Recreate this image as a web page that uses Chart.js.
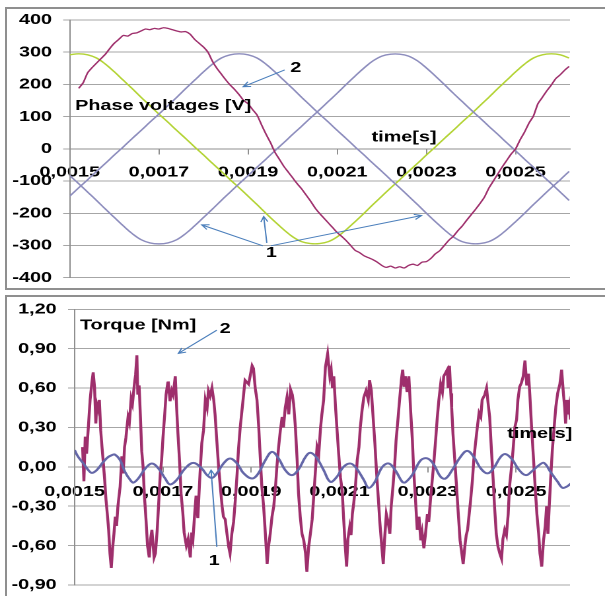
<!DOCTYPE html>
<html><head><meta charset="utf-8">
<script src="https://cdn.jsdelivr.net/npm/chart.js@4.4.0/dist/chart.umd.min.js"></script>
<style>
html,body{margin:0;padding:0;background:#fff;overflow:hidden;width:605px;height:596px;}
.frame{position:absolute;border:2px solid #8f8f8f;box-sizing:border-box;}
canvas{position:absolute;left:0;}
</style></head><body>
<div class="frame" style="left:5px;top:7px;width:700px;height:283px"></div>
<div class="frame" style="left:5px;top:295px;width:700px;height:400px"></div>
<canvas id="c1" width="458" height="290" style="top:0px;width:605px;height:290px"></canvas>
<canvas id="c2" width="458" height="306" style="top:290px;width:605px;height:306px"></canvas>
<script>
// ---------- axis ticks (time in microseconds) ----------
const xTicks = [1500, 1700, 1900, 2100, 2300, 2500];
const xLabels = ['0,0015', '0,0017', '0,0019', '0,0021', '0,0023', '0,0025'];
const yTicksV = [-400, -300, -200, -100, 0, 100, 200, 300, 400];
const yLabelsV = ['-400', '-300', '-200', '-100', '0', '100', '200', '300', '400'];
const yTicksT = [-0.9, -0.6, -0.3, 0, 0.3, 0.6, 0.9, 1.2];
const yLabelsT = ['-0,90', '-0,60', '-0,30', '0,00', '0,30', '0,60', '0,90', '1,20'];

// ---------- phase voltages (curves 1) ----------
const tV = [1500,1520,1540,1560,1580,1600,1620,1640,1660,1680,1700,1720,1740,1760,1780,1800,1820,1840,1860,1880,
1900,1920,1940,1960,1980,2000,2020,2040,2060,2080,2100,2120,2140,2160,2180,2200,2220,2240,2260,2280,
2300,2320,2340,2360,2380,2400,2420,2440,2460,2480,2500,2520,2540,2560,2580,2600,2620];
const vGreen = [292,295,292,282,263,239,213,187,160,134,108,83,57,32,6,-19,-45,-70,-96,-121,
-147,-173,-200,-226,-251,-273,-288,-294,-294,-288,-273,-251,-226,-200,-173,-147,-121,-96,-70,-45,
-19,6,32,57,83,108,134,160,187,213,239,263,282,292,295,292,282];
const vPhaseA = [-147,-121,-96,-70,-45,-19,6,32,57,83,108,134,160,187,213,239,263,282,292,295,
292,282,263,239,213,187,160,134,108,83,57,32,6,-19,-45,-70,-96,-121,-147,-173,
-200,-226,-251,-273,-288,-294,-294,-288,-273,-251,-226,-200,-173,-147,-121,-96,-70];
const vPhaseB = [-83,-108,-134,-160,-187,-213,-239,-263,-282,-292,-295,-292,-282,-263,-239,-213,-187,-160,-134,-108,
-83,-57,-32,-6,19,45,70,96,121,147,173,200,226,251,273,288,294,294,288,273,
251,226,200,173,147,121,96,70,45,19,-6,-32,-57,-83,-108,-134,-160];

// ---------- phase voltage (curve 2) ----------
const tV2 = [1520,1530,1540,1550,1560,1570,1580,1590,1600,1610,1620,1630,1640,1650,1660,1670,1680,1690,1700,1710,
1720,1730,1740,1750,1760,1770,1780,1790,1800,1810,1820,1830,1840,1850,1860,1870,1880,1890,1900,1910,
1920,1930,1940,1950,1960,1970,1980,1990,2000,2010,2020,2030,2040,2050,2060,2070,2080,2090,2100,2110,
2120,2130,2140,2150,2160,2170,2180,2190,2200,2210,2220,2230,2240,2250,2260,2270,2280,2290,2300,2310,
2320,2330,2340,2350,2360,2370,2380,2390,2400,2410,2420,2430,2440,2450,2460,2470,2480,2490,2500,2510,
2520,2530,2540,2550,2560,2570,2580,2590,2600,2610,2620];
const vMag = [188,205,236,252,266,280,294,312,328,340,352,350,358,360,366,372,370,374,372,376,
374,370,366,363,364,356,340,328,316,300,272,250,232,214,198,184,168,150,140,122,
105,75,46,20,-10,-32,-54,-72,-90,-108,-124,-143,-162,-183,-200,-215,-230,-245,-260,-272,
-285,-300,-315,-322,-332,-338,-344,-352,-362,-368,-364,-370,-366,-370,-362,-358,-362,-352,-350,-340,
-326,-316,-300,-284,-272,-255,-240,-222,-205,-188,-170,-150,-122,-100,-78,-56,-36,-16,0,28,
52,80,102,140,160,180,198,218,230,244,256];

// ---------- torque (curve 2) ----------
const tq2T = [1518,1521,1524,1527,1531,1535,1539,1542,1545,1548,1550,1554,1556,1559,1562,1565,1568,1571,1574,1577,
1580,1583,1586,1589,1592,1595,1598,1603,1607,1610,1613,1616,1621,1624,1628,1631,1635,1638,1641,1643,
1646,1649,1652,1655,1658,1662,1665,1669,1672,1675,1680,1683,1687,1690,1694,1697,1700,1704,1707,1711,
1712,1716,1720,1723,1728,1731,1734,1738,1741,1745,1748,1753,1757,1762,1765,1768,1772,1775,1779,1784,
1788,1792,1796,1800,1803,1807,1811,1815,1818,1822,1826,1830,1834,1837,1841,1845,1849,1852,1856,1860,
1864,1868,1871,1875,1879,1883,1886,1894,1902,1905,1909,1913,1917,1920,1924,1928,1932,1936,1939,1943,
1947,1951,1955,1958,1962,1966,1970,1973,1977,1981,1985,1989,1993,1996,2000,2004,2007,2011,2015,2019,
2023,2026,2030,2034,2038,2041,2045,2049,2053,2057,2060,2064,2068,2073,2078,2081,2084,2087,2091,2095,
2098,2102,2106,2109,2113,2116,2119,2123,2126,2129,2132,2136,2140,2144,2147,2151,2155,2160,2165,2168,
2172,2176,2180,2184,2188,2191,2195,2199,2202,2206,2210,2214,2217,2221,2225,2228,2232,2236,2240,2243,
2246,2249,2253,2257,2261,2265,2268,2272,2276,2280,2284,2287,2291,2295,2299,2302,2306,2310,2314,2318,
2321,2325,2329,2333,2336,2344,2346,2349,2352,2354,2357,2361,2365,2369,2373,2377,2380,2384,2387,2390,
2393,2397,2401,2404,2408,2412,2416,2420,2423,2429,2433,2436,2440,2444,2448,2451,2455,2459,2463,2467,
2470,2474,2478,2482,2485,2489,2493,2497,2501,2504,2508,2512,2516,2520,2524,2528,2531,2535,2539,2543,
2547,2551,2554,2558,2562,2566,2569,2572,2575,2578,2582,2586,2590,2594,2599,2603,2607,2610,2612,2615,
2617,2620,2623];
const tq2V = [0.15,-0.11,0.23,0.10,0.30,0.51,0.64,0.72,0.61,0.33,0.48,0.43,0.51,0.28,0.15,0.03,-0.10,-0.25,-0.36,-0.48,
-0.66,-0.77,-0.62,-0.51,-0.38,-0.45,-0.30,-0.15,0.08,-0.05,0.15,0.22,0.38,0.34,0.52,0.48,0.62,0.70,0.85,0.55,
0.62,0.38,0.12,0.00,-0.22,-0.42,-0.60,-0.69,-0.55,-0.48,-0.69,-0.66,-0.48,-0.30,-0.05,0.05,0.22,0.40,0.55,0.64,
0.65,0.50,0.58,0.55,0.69,0.45,0.25,0.02,-0.20,-0.35,-0.50,-0.60,-0.55,-0.69,-0.50,-0.55,-0.35,-0.22,-0.39,-0.05,
0.18,0.28,0.51,0.45,0.58,0.54,0.60,0.51,0.40,0.20,0.00,-0.15,-0.30,-0.38,-0.40,-0.51,-0.61,-0.66,-0.51,-0.42,
-0.25,-0.05,0.13,0.30,0.43,0.56,0.66,0.63,0.77,0.75,0.60,0.51,0.30,0.10,-0.15,-0.30,-0.51,-0.74,-0.61,-0.51,
-0.38,-0.30,-0.15,0.00,0.15,0.28,0.38,0.30,0.45,0.53,0.40,0.59,0.55,0.48,0.30,0.05,-0.20,-0.38,-0.51,-0.56,
-0.66,-0.80,-0.61,-0.51,-0.40,-0.25,-0.05,0.15,0.10,0.30,0.40,0.51,0.76,0.86,0.69,0.74,0.60,0.69,0.45,0.25,
0.10,-0.08,-0.18,-0.38,-0.61,-0.76,-0.55,-0.46,-0.52,-0.36,-0.28,-0.15,0.05,0.15,0.30,0.43,0.53,0.58,0.51,0.66,
0.58,0.38,0.18,-0.05,-0.25,-0.41,-0.58,-0.74,-0.55,-0.36,-0.42,-0.51,-0.30,-0.15,0.02,0.20,0.35,0.51,0.66,0.74,
0.61,0.69,0.57,0.69,0.43,0.20,-0.03,-0.25,-0.48,-0.38,-0.56,-0.50,-0.62,-0.50,-0.36,-0.42,-0.25,-0.10,0.05,0.22,
0.36,0.51,0.63,0.57,0.69,0.74,0.60,0.77,0.56,0.45,0.25,0.05,-0.15,-0.36,-0.56,-0.66,-0.74,-0.60,-0.52,-0.48,
-0.38,-0.25,-0.10,0.05,0.18,0.30,0.41,0.38,0.51,0.55,0.60,0.50,0.38,0.13,-0.10,-0.30,-0.51,-0.61,-0.66,-0.70,
-0.55,-0.48,-0.52,-0.36,-0.15,-0.02,0.13,0.30,0.36,0.51,0.61,0.64,0.69,0.81,0.62,0.71,0.55,0.30,0.08,-0.15,
-0.36,-0.51,-0.66,-0.76,-0.56,-0.45,-0.30,-0.51,-0.30,-0.10,0.13,0.30,0.46,0.56,0.63,0.74,0.56,0.45,0.33,0.51,
0.40,0.46,0.36];

// ---------- torque (curve 1) ----------
const tq1T = [1500,1508,1520,1531,1539,1550,1565,1576,1585,1591,1603,1614,1626,1633,1644,1660,1675,1690,1705,1716,
1731,1750,1769,1788,1800,1811,1822,1837,1852,1868,1883,1902,1916,1932,1947,1962,1977,1992,2007,2023,
2034,2048,2064,2079,2093,2109,2125,2138,2155,2166,2179,2197,2212,2227,2242,2249,2265,2284,2299,2313,
2329,2340,2355,2374,2389,2404,2420,2435,2449,2465,2476,2490,2507,2522,2537,2552,2563,2578,2594,2605,
2615,2624];
const tq1V = [0.127,0.076,0.025,-0.025,-0.046,-0.025,0.038,0.075,0.090,0.094,0.051,-0.038,-0.100,-0.120,-0.089,-0.013,0.025,-0.013,-0.089,-0.134,
-0.100,-0.013,0.030,-0.013,-0.063,-0.084,-0.050,0.025,0.064,0.025,-0.050,-0.089,-0.050,0.051,0.114,0.064,-0.025,-0.063,-0.020,0.076,
0.107,0.070,-0.025,-0.114,-0.080,0.000,0.025,-0.010,-0.100,-0.160,-0.120,0.000,0.025,-0.030,-0.114,-0.118,-0.060,0.051,0.064,0.020,
-0.076,-0.089,-0.025,0.076,0.122,0.076,-0.013,-0.050,-0.010,0.076,0.097,0.060,-0.025,-0.063,-0.030,0.013,0.030,-0.040,-0.114,-0.160,
-0.150,-0.127];

// ---------- rendering ----------
const FONT = "'Liberation Sans', Arial, Helvetica, sans-serif";
Chart.defaults.font.family = FONT;
Chart.defaults.font.size = 15;
Chart.defaults.font.weight = 'bold';
Chart.defaults.color = '#000';

const xy = (ts, vs) => vs.map((v, i) => ({x: ts[i], y: v}));

function makeAnnot(texts, arrows) {
  return {
    id: 'annot',
    afterDraw(chart) {
      const ctx = chart.ctx, xs = chart.scales.x, ys = chart.scales.y;
      const P = (t, v) => [xs.getPixelForValue(t), ys.getPixelForValue(v)];
      ctx.save();
      ctx.strokeStyle = '#4a7ebb';
      ctx.lineWidth = 1;
      arrows.forEach(a => {
        const [x1, y1] = P(a[0], a[1]), [x2, y2] = P(a[2], a[3]);
        const ang = Math.atan2(y2 - y1, x2 - x1), L = 6;
        ctx.beginPath();
        ctx.moveTo(x1, y1); ctx.lineTo(x2, y2);
        ctx.moveTo(x2 - L * Math.cos(ang - 0.45), y2 - L * Math.sin(ang - 0.45));
        ctx.lineTo(x2, y2);
        ctx.lineTo(x2 - L * Math.cos(ang + 0.45), y2 - L * Math.sin(ang + 0.45));
        ctx.stroke();
      });
      ctx.font = 'bold 15px ' + FONT;
      ctx.fillStyle = '#000';
      ctx.textBaseline = 'alphabetic';
      texts.forEach(a => {
        const [x, y] = P(a[1], a[2]);
        ctx.textAlign = a[3] || 'left';
        ctx.fillText(a[0], x, y);
      });
      ctx.restore();
    }
  };
}

function xScale(pad) {
  return {
    type: 'linear', min: 1500, max: 2622, position: {y: 0}, offset: false,
    afterBuildTicks: s => { s.ticks = xTicks.map(v => ({value: v})); },
    ticks: {autoSkip: false, maxRotation: 0, padding: pad, callback: (v, i) => xLabels[i]},
    grid: {drawOnChartArea: false, drawTicks: true, tickLength: 5, color: '#8f8f8f'},
    border: {display: true, color: '#8f8f8f', width: 1}
  };
}
function yScale(min, max, vals, labels, width, pad) {
  return {
    type: 'linear', min: min, max: max,
    afterBuildTicks: s => { s.ticks = vals.map(v => ({value: v})); },
    afterFit: s => { s.width = width; s.paddingTop = 0; s.paddingBottom = 0; },
    ticks: {autoSkip: false, padding: pad, callback: (v, i) => labels[i]},
    grid: {color: '#a6a6a6', lineWidth: 1, drawTicks: true, tickLength: 5},
    border: {display: true, color: '#8f8f8f', width: 1}
  };
}

new Chart(document.getElementById('c1'), {
  type: 'line',
  data: {datasets: [
    {data: xy(tV2, vMag), borderColor: '#9e2f6c', borderWidth: 1.3, pointRadius: 0, tension: 0.2},
    {data: xy(tV, vPhaseA), borderColor: '#8d8dbd', borderWidth: 1.4, pointRadius: 0, tension: 0.4},
    {data: xy(tV, vPhaseB), borderColor: '#8d8dbd', borderWidth: 1.4, pointRadius: 0, tension: 0.4},
    {data: xy(tV, vGreen), borderColor: '#b3d335', borderWidth: 1.4, pointRadius: 0, tension: 0.4}
  ]},
  options: {
    responsive: false, animation: false, devicePixelRatio: 2,
    layout: {padding: {left: 0, right: 26.5, top: 20, bottom: 12.3}},
    plugins: {legend: {display: false}, tooltip: {enabled: false}},
    scales: {x: xScale(9.5), y: yScale(-400, 400, yTicksV, yLabelsV, 52.8, 8.4)}
  },
  plugins: [makeAnnot(
    [['Phase voltages [V]', 1512, 120], ['2', 2007, 239, 'center'], ['time[s]', 2177, 23],
     ['1', 1952, -335, 'center']],
    [[1982, 245, 1889, 193], [1933, -301, 1796, -236], [1942, -292, 1935, -210], [1951, -301, 2289, -207]]
  )]
});

new Chart(document.getElementById('c2'), {
  type: 'line',
  data: {datasets: [
    {data: xy(tq1T, tq1V), borderColor: '#6467a8', borderWidth: 2, pointRadius: 0, tension: 0.4},
    {data: xy(tq2T, tq2V), borderColor: '#9e2f6c', borderWidth: 2.2, pointRadius: 0, tension: 0}
  ]},
  options: {
    responsive: false, animation: false, devicePixelRatio: 2,
    layout: {padding: {left: 0, right: 26.5, top: 19.3, bottom: 11}},
    plugins: {legend: {display: false}, tooltip: {enabled: false}},
    scales: {x: xScale(11), y: yScale(-0.9, 1.2, yTicksT, yLabelsT, 56.5, 8.6)}
  },
  plugins: [makeAnnot(
    [['Torque [Nm]', 1512, 1.045], ['2', 1841, 1.018, 'center'], ['time[s]', 2480, 0.219],
     ['1', 1816, -0.749, 'center']],
    [[1822, 1.041, 1735, 0.864], [1822, -0.609, 1809, -0.025]]
  )]
});
</script>
</body></html>
